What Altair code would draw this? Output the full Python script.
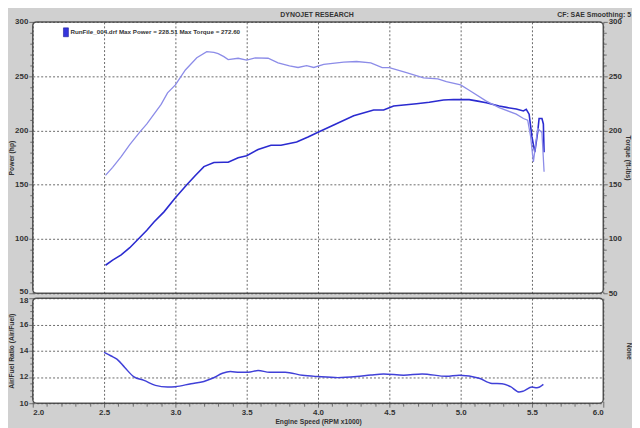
import altair as alt
import pandas as pd

# ---------------- data ----------------
rpm_power = [2.51, 2.56, 2.62, 2.68, 2.74, 2.80, 2.85, 2.92, 3.00, 3.08, 3.14, 3.20, 3.27, 3.34,
             3.37, 3.44, 3.50, 3.58, 3.67, 3.74, 3.85, 3.93, 4.00, 4.11, 4.25, 4.39, 4.46, 4.53,
             4.69, 4.78, 4.88, 4.95, 5.06, 5.12, 5.18, 5.27, 5.33, 5.39, 5.44, 5.46, 5.48, 5.50,
             5.52, 5.54, 5.55, 5.57, 5.58, 5.585]
power_hp = [75.8, 80.5, 85.4, 92.0, 100.0, 108.0, 115.6, 125.0, 138.0, 150.0, 158.5, 166.7, 170.4, 170.7,
            170.7, 174.9, 176.7, 182.5, 186.4, 186.4, 189.3, 193.9, 198.4, 205.0, 213.5, 218.9, 218.9, 222.5,
            224.6, 226.0, 228.0, 228.5, 228.4, 227.0, 225.5, 222.5, 221.0, 219.8, 218.0, 219.5, 215.0, 194.0,
            180.0, 198.4, 211.0, 211.0, 206.0, 180.0]

rpm_torque = [2.51, 2.56, 2.62, 2.68, 2.75, 2.80, 2.85, 2.90, 2.945, 3.00, 3.07, 3.15, 3.22, 3.27,
              3.30, 3.34, 3.37, 3.44, 3.50, 3.56, 3.65, 3.72, 3.80, 3.86, 3.92, 3.97, 4.04, 4.18,
              4.27, 4.37, 4.45, 4.50, 4.62, 4.74, 4.84, 4.90, 5.00, 5.06, 5.18, 5.27, 5.39, 5.44,
              5.47, 5.49, 5.51, 5.54, 5.555, 5.57, 5.585]
torque_ftlb = [158.6, 166.0, 175.8, 187.0, 198.4, 206.0, 215.0, 224.0, 234.6, 242.0, 255.7, 267.0, 272.6, 272.0,
               270.7, 268.0, 265.3, 266.5, 264.7, 266.8, 266.5, 262.3, 259.5, 258.0, 259.6, 258.0, 260.8, 263.0,
               263.5, 262.3, 257.8, 257.8, 253.3, 248.5, 247.6, 245.0, 242.0, 237.0, 227.0, 221.0, 215.0, 211.0,
               209.5, 195.0, 171.0, 201.7, 200.0, 198.0, 162.0]

rpm_afr = [2.50, 2.55, 2.59, 2.645, 2.71, 2.78, 2.86, 2.945, 3.00, 3.11, 3.20, 3.26, 3.33, 3.385,
           3.45, 3.51, 3.58, 3.66, 3.77, 3.89, 4.00, 4.14, 4.27, 4.37, 4.46, 4.60, 4.73, 4.90,
           4.99, 5.13, 5.22, 5.29, 5.35, 5.41, 5.44, 5.50, 5.535, 5.58]
afr = [13.87, 13.6, 13.36, 12.72, 12.0, 11.74, 11.36, 11.23, 11.26, 11.49, 11.66, 11.9, 12.28, 12.41,
       12.36, 12.36, 12.49, 12.36, 12.36, 12.13, 12.03, 11.95, 12.03, 12.15, 12.23, 12.13, 12.23, 12.05,
       12.13, 11.9, 11.51, 11.49, 11.26, 10.85, 10.92, 11.23, 11.18, 11.44]

x_major = [2.0, 2.5, 3.0, 3.5, 4.0, 4.5, 5.0, 5.5, 6.0]
x_ticks = [round(2.0 + 0.1 * i, 1) for i in range(41)]
y_top_ticks = list(range(50, 301, 10))
y_afr_ticks = [10 + 0.5 * i for i in range(17)]

header_text = "DYNOJET RESEARCH"
cf_text = "CF: SAE  Smoothing: 5"
legend_text = "RunFile_004.drf Max Power = 228.51 Max Torque = 272.60"

# ---------------- styling ----------------
FONT = "Liberation Sans"
TXT = "#333333"
GRID = "#444444"
POWER_C = "#2b2bd0"
TORQUE_C = "#8c8ce8"
AFR_C = "#4040d8"
W, H1, H2 = 576, 274, 106

power_df = pd.DataFrame({"rpm": rpm_power, "hp": power_hp, "i": range(len(rpm_power))})
torque_df = pd.DataFrame({"rpm": rpm_torque, "tq": torque_ftlb, "i": range(len(rpm_torque))})
afr_df = pd.DataFrame({"rpm": rpm_afr, "afr": afr, "i": range(len(rpm_afr))})

xscale = alt.Scale(domain=[2.0, 6.0], nice=False, zero=False)
top_scale = alt.Scale(domain=[50, 300], nice=False, zero=False)
afr_scale = alt.Scale(domain=[10, 18], nice=False, zero=False)

major50 = "datum.value % 50 === 0"
major2 = "datum.value % 2 === 0"
majorx = "abs(datum.value * 2 - round(datum.value * 2)) < 0.001"

x_top_axis = alt.Axis(values=x_major, labels=False, ticks=False, domain=False, title=None,
                      grid=True, gridDash=[2, 2], gridColor=GRID, gridWidth=0.8)

power_axis = alt.Axis(orient="left", title="Power (hp)", values=y_top_ticks,
                      labelExpr=f"{major50} ? datum.label : ''", labelOverlap=False,
                      labelOffset={"condition": {"test": "datum.value === 50", "value": -2}, "value": 0},
                      tickSize={"condition": {"test": major50, "value": 4}, "value": 3},
                      grid=True, gridDash=[2, 2], gridColor=GRID, gridWidth=0.8,
                      gridOpacity={"condition": {"test": major50, "value": 1}, "value": 0},
                      domain=False, titleX=-18)
torque_axis = alt.Axis(orient="right", title="Torque (ft-lbs)", values=y_top_ticks,
                       labelExpr=f"{major50} ? datum.label : ''", labelOverlap=False,
                       tickSize={"condition": {"test": major50, "value": 4}, "value": 3},
                       grid=False, domain=False, titlePadding=3)

power = alt.Chart(power_df).mark_line(color=POWER_C, strokeWidth=1.6).encode(
    x=alt.X("rpm:Q", scale=xscale, axis=x_top_axis),
    y=alt.Y("hp:Q", scale=top_scale, axis=power_axis),
    order="i:Q",
)
torque = alt.Chart(torque_df).mark_line(color=TORQUE_C, strokeWidth=1.3).encode(
    x=alt.X("rpm:Q", scale=xscale, axis=x_top_axis),
    y=alt.Y("tq:Q", scale=top_scale, axis=torque_axis),
    order="i:Q",
)

one = pd.DataFrame({"t": [legend_text]})
swatch = alt.Chart(one).mark_rect(fill="#3535dd", stroke="#1c1c99", strokeWidth=0.6).encode(
    x=alt.value(31), x2=alt.value(36), y=alt.value(6), y2=alt.value(15))
legend = alt.Chart(one).mark_text(align="left", baseline="middle", font=FONT, fontSize=6.3,
                                  fontWeight="bold", color=TXT).encode(
    x=alt.value(38), y=alt.value(10.5), text="t:N")
hdr = alt.Chart(pd.DataFrame({"t": [header_text]})).mark_text(
    align="center", baseline="middle", font=FONT, fontSize=7, fontWeight="bold", color=TXT).encode(
    x=alt.value(287), y=alt.value(-7), text="t:N")
cf = alt.Chart(pd.DataFrame({"t": [cf_text]})).mark_text(
    align="right", baseline="middle", font=FONT, fontSize=7, fontWeight="bold", color=TXT).encode(
    x=alt.value(604), y=alt.value(-7), text="t:N")

top = alt.layer(power, torque, swatch, legend, hdr, cf).resolve_scale(y="independent").properties(
    width=W, height=H1)

x_bot_axis = alt.Axis(values=x_ticks, title="Engine Speed (RPM x1000)",
                      labelExpr=f"{majorx} ? format(datum.value, '.1f') : ''", labelOverlap=False,
                      tickSize={"condition": {"test": majorx, "value": 4}, "value": 3},
                      grid=True, gridDash=[2, 2], gridColor=GRID, gridWidth=0.8,
                      gridOpacity={"condition": {"test": majorx, "value": 1}, "value": 0},
                      domain=False, titlePadding=2)
afr_axis = alt.Axis(orient="left", title="Air/Fuel Ratio (Air/Fuel)", values=y_afr_ticks,
                    labelExpr=f"{major2} ? format(datum.value, 'd') : ''", labelOverlap=False,
                    labelOffset={"condition": {"test": "datum.value === 18", "value": 2}, "value": 0},
                    tickSize={"condition": {"test": major2, "value": 4}, "value": 3},
                    grid=True, gridDash=[2, 2], gridColor=GRID, gridWidth=0.8,
                    gridOpacity={"condition": {"test": major2, "value": 1}, "value": 0},
                    domain=False, titleX=-18)
none_axis = alt.Axis(orient="right", title="None", labels=False, ticks=False, grid=False,
                     domain=False, titleX=22)

afr_line = alt.Chart(afr_df).mark_line(color=AFR_C, strokeWidth=1.5, interpolate="monotone").encode(
    x=alt.X("rpm:Q", scale=xscale, axis=x_bot_axis),
    y=alt.Y("afr:Q", scale=afr_scale, axis=afr_axis),
    order="i:Q",
)
none_layer = alt.Chart(afr_df).mark_line(opacity=0).encode(
    x=alt.X("rpm:Q", scale=xscale, axis=x_bot_axis),
    y=alt.Y("afr:Q", scale=afr_scale, axis=none_axis),
)
bottom = alt.layer(afr_line, none_layer).resolve_scale(y="independent").properties(width=W, height=H2)

chart = alt.vconcat(top, bottom, spacing=5, bounds="flush").properties(
    padding={"left": 0, "top": 0, "right": 0, "bottom": 0}, background="#d0d0d0"
).configure_view(
    fill="white", stroke="#555555", strokeWidth=1.5, cornerRadius=4
).configure_axis(
    labelFont=FONT, labelFontSize=8, labelFontWeight="bold", labelColor=TXT, labelPadding=1,
    titleFont=FONT, titleFontSize=6.8, titleFontWeight="bold", titleColor=TXT, titlePadding=2,
    tickColor="#555555", tickWidth=0.8,
)

chart.save("out.html", embed_options={"renderer": "svg", "actions": False})
